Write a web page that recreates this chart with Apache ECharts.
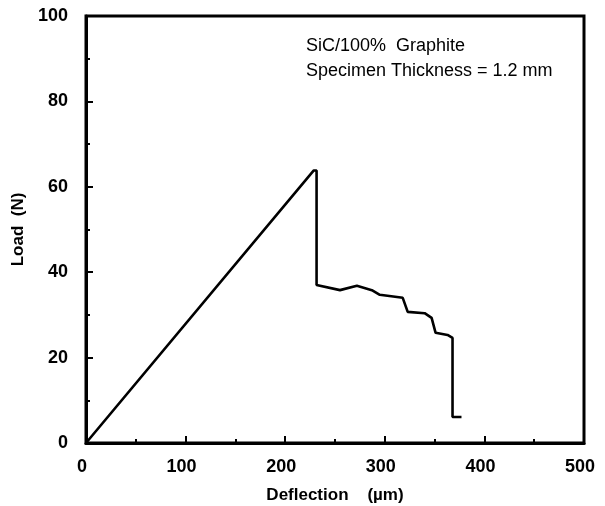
<!DOCTYPE html>
<html><head><meta charset="utf-8">
<script src="https://cdn.jsdelivr.net/npm/echarts@6/dist/echarts.min.js"></script>
<style>html,body{margin:0;padding:0;background:#fff}#c{width:605px;height:506px}</style>
</head><body><div id="c"></div>
<script>
const deflection = [0, 228.5, 231.5, 231.5, 255, 272, 287, 295, 318, 323, 340, 347, 351, 363, 368, 368, 377];
const load = [0, 63.8, 63.8, 37.0, 35.8, 36.8, 35.8, 34.7, 34.0, 30.7, 30.4, 29.3, 25.8, 25.3, 24.6, 6.1, 6.1];
const xTicks = [0, 100, 200, 300, 400, 500];
const yTicks = [0, 20, 40, 60, 80, 100];
const annotation = ['SiC/100%  Graphite', 'Specimen Thickness = 1.2 mm'];

const chart = echarts.init(document.getElementById('c'));
const F = 'Liberation Sans, Arial, Helvetica, sans-serif';
chart.setOption({
  animation: false,
  backgroundColor: '#fff',
  grid: {left: 86, right: 21, top: 16, bottom: 63, show: true, borderColor: '#000', borderWidth: 3,
         containLabel: false, outerBoundsMode: 'none'},
  xAxis: {
    type: 'value', min: xTicks[0], max: xTicks[xTicks.length - 1], interval: 100,
    name: 'Deflection    (\u00b5m)', nameLocation: 'middle', nameGap: 44,
    nameTextStyle: {fontFamily: F, fontWeight: 'bold', fontSize: 17, color: '#000'},
    axisLine: {show: true, lineStyle: {color: '#000', width: 3}},
    axisTick: {show: true, inside: true, length: 7, lineStyle: {color: '#000', width: 2}},
    minorTick: {show: true, splitNumber: 2, length: 4, lineStyle: {color: '#000', width: 2}},
    axisLabel: {fontFamily: F, fontWeight: 'bold', fontSize: 18, color: '#000', margin: 15, padding: [0, 8, 0, 0]},
    splitLine: {show: false}
  },
  yAxis: {
    type: 'value', min: yTicks[0], max: yTicks[yTicks.length - 1], interval: 20,
    name: 'Load  (N)', nameLocation: 'middle', nameGap: 58, nameRotate: 90,
    nameTextStyle: {fontFamily: F, fontWeight: 'bold', fontSize: 17, color: '#000'},
    axisLine: {show: true, lineStyle: {color: '#000', width: 3}},
    axisTick: {show: true, inside: true, length: 7, lineStyle: {color: '#000', width: 2}},
    minorTick: {show: true, splitNumber: 2, length: 4, lineStyle: {color: '#000', width: 2}},
    axisLabel: {fontFamily: F, fontWeight: 'bold', fontSize: 18, color: '#000', margin: 18},
    splitLine: {show: false}
  },
  graphic: [{
    type: 'text', left: 306, top: 34,
    style: {text: annotation.join('\n'), font: '18px ' + F, fill: '#000', lineHeight: 25}
  }],
  series: [{
    type: 'line', data: deflection.map((d, i) => [d, load[i]]),
    showSymbol: false, lineStyle: {color: '#000', width: 2.6}, z: 3
  }]
});
</script></body></html>
